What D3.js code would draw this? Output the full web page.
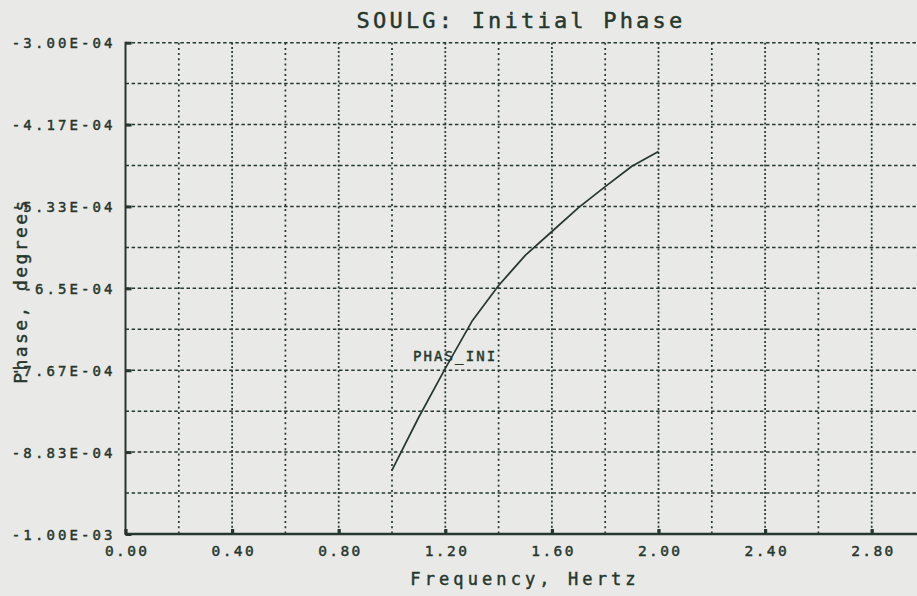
<!DOCTYPE html>
<html>
<head>
<meta charset="utf-8">
<script src="https://cdn.jsdelivr.net/npm/d3@7"></script>
<style>
  html, body { margin: 0; padding: 0; background: #e9eae8; }
  svg { display: block; }
  text { font-family: "DejaVu Sans Mono", "Liberation Mono", monospace; fill: #26372d; stroke: #26372d; stroke-width: 0.45px; }
</style>
</head>
<body>
<svg id="chart" width="917" height="596"></svg>
<script>
// Frequency sweep (Hz) and initial phase (degrees) for series PHAS_INI
const frequency = [1.0, 1.1, 1.2, 1.3, 1.4, 1.5, 1.6, 1.7, 1.8, 1.9, 2.0];
const phaseIni = [-9.09e-4, -8.34e-4, -7.64e-4, -6.97e-4, -6.46e-4, -6.03e-4,
                  -5.69e-4, -5.35e-4, -5.05e-4, -4.76e-4, -4.55e-4];

const xTicks = [0, 0.4, 0.8, 1.2, 1.6, 2.0, 2.4, 2.8];
const xTickLabels = ["0.00", "0.40", "0.80", "1.20", "1.60", "2.00", "2.40", "2.80"];
const xGridValues = [0.2, 0.4, 0.6, 0.8, 1.0, 1.2, 1.4, 1.6, 1.8, 2.0, 2.2, 2.4, 2.6, 2.8, 3.0];

const yTicks = [-1.0e-3, -8.833e-4, -7.667e-4, -6.5e-4, -5.333e-4, -4.167e-4, -3.0e-4];
const yTickLabels = ["-1.00E-03", "-8.83E-04", "-7.67E-04", "-6.5E-04", "-5.33E-04", "-4.17E-04", "-3.00E-04"];
const yGridValues = [-9.417e-4, -8.833e-4, -8.25e-4, -7.667e-4, -7.083e-4, -6.5e-4,
                     -5.917e-4, -5.333e-4, -4.75e-4, -4.167e-4, -3.583e-4, -3.0e-4];

const titleText = "SOULG: Initial Phase";
const xTitle = "Frequency, Hertz";
const yTitle = "Phase, degrees";
const seriesName = "PHAS_INI";

const ink = "#26372d";
const svg = d3.select("#chart");

const x = d3.scaleLinear().domain([0, 3]).range([125.5, 925]);
const y = d3.scaleLinear().domain([-1.0e-3, -3.0e-4]).range([534, 42.7]);

// dotted grid
const grid = svg.append("g");
grid.selectAll("line.v").data(xGridValues).join("line")
  .attr("class", "v")
  .attr("x1", d => x(d)).attr("x2", d => x(d))
  .attr("y1", y(-3.0e-4)).attr("y2", y(-1.0e-3))
  .attr("stroke", ink).attr("stroke-width", 1.7)
  .attr("stroke-dasharray", (d, i) => (i % 2 === 1 ? "2,2.2" : "2,3.2"));
grid.selectAll("line.h").data(yGridValues).join("line")
  .attr("class", "h")
  .attr("x1", x(0)).attr("x2", 917)
  .attr("y1", d => y(d)).attr("y2", d => y(d))
  .attr("stroke", ink).attr("stroke-width", 1.5)
  .attr("stroke-dasharray", "3.5,2.6");

// axes
const xAxis = d3.axisBottom(x)
  .tickValues(xTicks)
  .tickFormat((d, i) => xTickLabels[i])
  .tickSizeInner(-5).tickSizeOuter(0).tickPadding(0);
const gx = svg.append("g").attr("transform", `translate(0,${y(-1.0e-3)})`).call(xAxis);
gx.select(".domain").remove();
gx.selectAll(".tick line").attr("stroke", ink).attr("stroke-width", 3.2);
gx.selectAll(".tick text")
  .attr("y", 22).attr("dy", null)
  .attr("dx", "1.2")
  .style("font-size", "14.5px").style("letter-spacing", "2.4px")
  .style("font-family", "'DejaVu Sans Mono', monospace").attr("fill", ink);

const yAxis = d3.axisLeft(y)
  .tickValues(yTicks)
  .tickFormat((d, i) => yTickLabels[i])
  .tickSizeInner(-6).tickSizeOuter(0).tickPadding(13);
const gy = svg.append("g").attr("transform", `translate(${x(0)},0)`).call(yAxis);
gy.select(".domain").remove();
gy.selectAll(".tick line").attr("stroke", ink).attr("stroke-width", 3);
gy.selectAll(".tick text")
  .attr("dx", "3.1").attr("dy", "0.36em")
  .style("font-size", "14px").style("letter-spacing", "3.1px")
  .style("font-family", "'DejaVu Sans Mono', monospace").attr("fill", ink);

// axis lines
svg.append("line")
  .attr("x1", x(0)).attr("x2", x(0)).attr("y1", y(-3.0e-4) - 1).attr("y2", y(-1.0e-3) + 1)
  .attr("stroke", ink).attr("stroke-width", 2);
svg.append("line")
  .attr("x1", x(0)).attr("x2", 917).attr("y1", y(-1.0e-3)).attr("y2", y(-1.0e-3))
  .attr("stroke", ink).attr("stroke-width", 2.6);

// data curve
const line = d3.line().x((d, i) => x(frequency[i])).y(d => y(d));
svg.append("path")
  .datum(phaseIni)
  .attr("d", line)
  .attr("fill", "none").attr("stroke", ink).attr("stroke-width", 1.7)
  .attr("stroke-linejoin", "round");

svg.append("text")
  .attr("x", 413).attr("y", 361)
  .style("font-size", "14px").style("letter-spacing", "2.1px")
  .text(seriesName);

// titles
svg.append("text")
  .attr("x", 521).attr("y", 28)
  .attr("text-anchor", "middle")
  .style("font-size", "22px").style("letter-spacing", "3.2px")
  .text(titleText);

svg.append("text")
  .attr("x", 525).attr("y", 585)
  .attr("text-anchor", "middle")
  .style("font-size", "17px").style("letter-spacing", "4.1px")
  .text(xTitle);

svg.append("text")
  .attr("transform", "translate(27,291) rotate(-90)")
  .attr("text-anchor", "middle")
  .style("font-size", "18px").style("letter-spacing", "2.4px")
  .text(yTitle);
</script>
</body>
</html>
